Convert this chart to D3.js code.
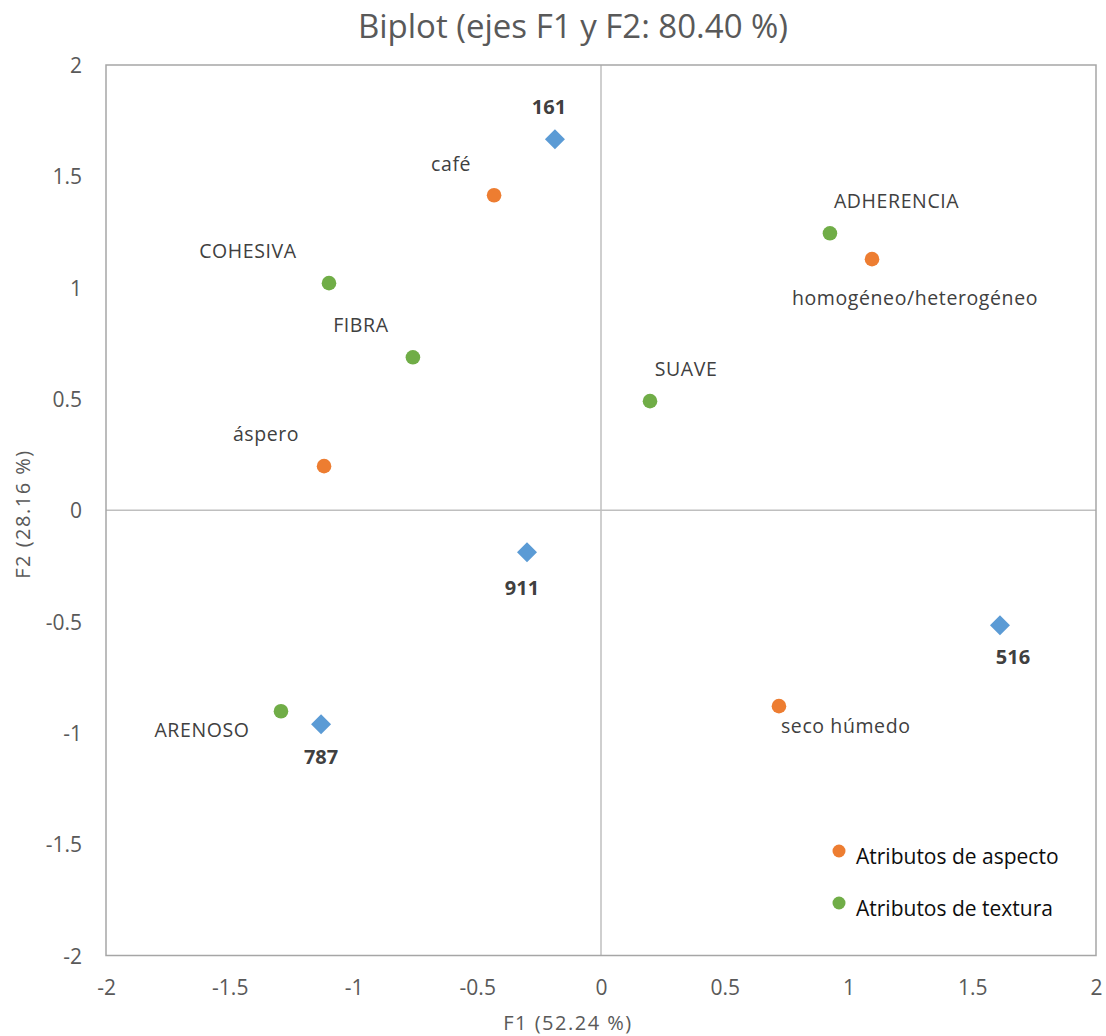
<!DOCTYPE html>
<html>
<head>
<meta charset="utf-8">
<script src="https://cdn.jsdelivr.net/npm/d3@7"></script>
<style>
  body { margin: 0; background: #fff; }
  svg text { font-family: "Open Sans", Lato, sans-serif; }
</style>
</head>
<body>
<svg id="chart" width="1106" height="1036"></svg>
<script>
// Observations (products)
const productNames = ["161", "911", "516", "787"];
const productF1 = [-0.186, -0.299, 1.612, -1.131];
const productF2 = [1.667, -0.189, -0.517, -0.961];

// Appearance attributes
const aspectNames = ["café", "homogéneo/heterogéneo", "áspero", "seco húmedo"];
const aspectF1 = [-0.432, 1.095, -1.119, 0.719];
const aspectF2 = [1.415, 1.128, 0.198, -0.880];

// Texture attributes
const textureNames = ["ADHERENCIA", "COHESIVA", "FIBRA", "SUAVE", "ARENOSO"];
const textureF1 = [0.925, -1.099, -0.760, 0.198, -1.293];
const textureF2 = [1.244, 1.020, 0.687, 0.490, -0.903];

const tickValues = [-2, -1.5, -1, -0.5, 0, 0.5, 1, 1.5, 2];
const legendLabels = ["Atributos de aspecto", "Atributos de textura"];

const colors = { product: "#5B9BD5", aspect: "#ED7D31", texture: "#70AD47" };

// label placement relative to each marker: [dx, dy of text centre, anchor]
const labelPlacement = {
  "161": [-6, -32, "middle"],
  "911": [-5, 36, "middle"],
  "516": [13, 32, "middle"],
  "787": [0, 33, "middle"],
  "café": [-43, -31, "middle"],
  "homogéneo/heterogéneo": [43, 39, "middle"],
  "áspero": [-58, -32, "middle"],
  "seco húmedo": [2, 20, "start"],
  "ADHERENCIA": [4, -32, "start"],
  "COHESIVA": [-81, -32, "middle"],
  "FIBRA": [-52, -32, "middle"],
  "SUAVE": [36, -32, "middle"],
  "ARENOSO": [-79, 19, "middle"]
};

const svg = d3.select("#chart");
const plotLeft = 106, plotRight = 1096, plotTop = 65, plotBottom = 955.5;

const x = d3.scaleLinear().domain([-2, 2]).range([plotLeft, plotRight]);
const y = d3.scaleLinear().domain([-2, 2]).range([plotBottom, plotTop]);

// zero lines
svg.append("line").attr("x1", x(0)).attr("x2", x(0)).attr("y1", plotTop).attr("y2", plotBottom)
  .attr("stroke", "#bfbfbf").attr("stroke-width", 1.5);
svg.append("line").attr("x1", plotLeft).attr("x2", plotRight).attr("y1", y(0)).attr("y2", y(0))
  .attr("stroke", "#bfbfbf").attr("stroke-width", 1.5);

// plot border
svg.append("rect").attr("x", plotLeft).attr("y", plotTop)
  .attr("width", plotRight - plotLeft).attr("height", plotBottom - plotTop)
  .attr("fill", "none").attr("stroke", "#a6a6a6").attr("stroke-width", 1.5);

// axes (labels only, no ticks or domain)
const tickSize = 21;
const fmt = d => String(d);
const xAxis = svg.append("g").attr("transform", `translate(0,${plotBottom})`)
  .call(d3.axisBottom(x).tickValues(tickValues).tickFormat(fmt).tickSize(0));
const yAxis = svg.append("g").attr("transform", `translate(${plotLeft},0)`)
  .call(d3.axisLeft(y).tickValues(tickValues).tickFormat(fmt).tickSize(0));
[xAxis, yAxis].forEach(g => {
  g.select(".domain").remove();
  g.selectAll("text").attr("font-size", tickSize).attr("fill", "#595959")
    .style("font-family", "'Open Sans', Lato, sans-serif");
});
xAxis.selectAll("text").attr("y", 995 - plotBottom).attr("dy", 0);
yAxis.selectAll("text").attr("x", -24).attr("dy", tickSize * 0.357);

// title and axis titles
svg.append("text").attr("x", 573).attr("y", 38).attr("text-anchor", "middle")
  .attr("font-size", 33).attr("fill", "#595959").text("Biplot (ejes F1 y F2: 80.40 %)");
svg.append("text").attr("x", 568).attr("y", 1030).attr("text-anchor", "middle")
  .attr("font-size", 20).attr("letter-spacing", 1.5).attr("fill", "#595959").text("F1 (52.24 %)");
svg.append("text").attr("transform", "translate(30,514) rotate(-90)").attr("text-anchor", "middle")
  .attr("font-size", 20).attr("letter-spacing", 1.5).attr("fill", "#595959").text("F2 (28.16 %)");

function drawLabels(names, xs, ys, bold) {
  const size = bold ? 20 : 19.5;
  names.forEach((n, i) => {
    const p = labelPlacement[n];
    svg.append("text")
      .attr("x", x(xs[i]) + p[0]).attr("y", y(ys[i]) + p[1] + size * 0.357)
      .attr("text-anchor", p[2])
      .attr("font-size", size)
      .attr("letter-spacing", bold ? 0 : 0.6)
      .attr("font-weight", bold ? "bold" : "normal")
      .attr("fill", "#404040").text(n);
  });
}

// attribute markers
function drawCircles(xs, ys, color) {
  svg.append("g").selectAll("circle").data(xs.map((v, i) => [v, ys[i]])).join("circle")
    .attr("cx", d => x(d[0])).attr("cy", d => y(d[1])).attr("r", 7.3).attr("fill", color);
}
drawCircles(aspectF1, aspectF2, colors.aspect);
drawCircles(textureF1, textureF2, colors.texture);

// product markers (diamonds)
const diamond = d3.symbol().type(d3.symbolSquare).size(200);
svg.append("g").selectAll("path").data(productF1.map((v, i) => [v, productF2[i]])).join("path")
  .attr("d", diamond)
  .attr("transform", d => `translate(${x(d[0])},${y(d[1])}) rotate(45)`)
  .attr("fill", colors.product);

drawLabels(aspectNames, aspectF1, aspectF2, false);
drawLabels(textureNames, textureF1, textureF2, false);
drawLabels(productNames, productF1, productF2, true);

// legend
const legend = svg.append("g");
legendLabels.forEach((l, i) => {
  const cy = 851 + i * 52;
  legend.append("circle").attr("cx", 839).attr("cy", cy).attr("r", 6.5)
    .attr("fill", i === 0 ? colors.aspect : colors.texture);
  legend.append("text").attr("x", 856).attr("y", cy + 13).attr("font-size", 21)
    .attr("fill", "#0d0d0d").text(l);
});
</script>
</body>
</html>
